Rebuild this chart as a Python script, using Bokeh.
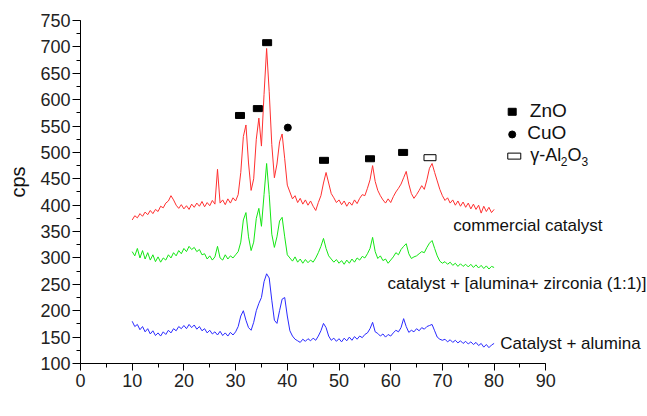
import numpy as np
from bokeh.plotting import figure
from bokeh.models import Range1d, SingleIntervalTicker, Label
from bokeh.embed import file_html
from bokeh.resources import INLINE

# 2-theta sampling positions (degrees)
two_theta = np.arange(10.0, 80.25, 0.5)

commercial = [
    372, 380, 376, 384, 379, 387, 382, 390, 384, 392,
    388, 398, 395, 404, 408, 418, 410, 400, 394, 401,
    393, 399, 392, 402, 396, 404, 398, 407, 397, 405,
    399, 409, 402, 468, 404, 410, 401, 412, 404, 414,
    408, 420, 462, 530, 552, 480, 428, 450, 525, 565,
    512, 610, 697, 615, 515, 452, 478, 520, 535, 488,
    438, 425, 412, 418, 405, 413, 402, 410, 400, 408,
    398, 390, 405, 418, 442, 462, 442, 422, 414, 405,
    410, 401, 408, 398, 406, 400, 410, 403, 413, 420,
    418, 432, 448, 475, 445, 428, 418, 410, 404, 412,
    405, 416, 425, 432, 440, 452, 464, 440, 422, 413,
    420, 428, 437, 430, 448, 470, 479, 462, 446, 430,
    418, 409, 414, 404, 410, 400, 408, 398, 406, 396,
    404, 393, 402, 392, 400, 385, 398, 388, 396, 386,
    392,
]

alumina_zirconia = [
    312, 304, 318, 300, 314, 298, 310, 296, 306, 293,
    302, 292, 300, 296, 306, 300, 310, 304, 314, 308,
    318, 312, 322, 316, 320, 312, 316, 306, 308, 298,
    304, 296, 302, 322, 300, 296, 306, 298, 304, 300,
    306, 312, 330, 372, 386, 340, 314, 330, 375, 394,
    360, 420, 479, 420, 345, 320, 340, 370, 377, 340,
    306, 300, 294, 302, 292, 298, 290, 297, 291, 296,
    292, 300, 310, 322, 337, 318, 304, 298, 292, 297,
    290, 295, 288, 296, 290, 298, 292, 300, 296, 303,
    300, 308, 318, 339, 312, 299, 304, 295, 298, 290,
    296, 302, 310, 306, 316, 322, 327, 308, 299, 302,
    304, 308, 312, 310, 320, 328, 333, 318, 304, 294,
    290, 293, 288, 292, 286, 290, 284, 289, 284, 288,
    283, 288, 282, 287, 281, 286, 280, 285, 279, 284,
    282,
]

alumina = [
    180, 170, 174, 164, 170, 160, 166, 156, 162, 153,
    158, 152, 160, 155, 163, 158, 166, 162, 170, 166,
    172, 166, 174, 168, 173, 165, 170, 162, 166, 158,
    163, 156, 160, 154, 161, 153, 158, 152, 159, 154,
    160, 170, 190, 200, 182, 168, 163, 178, 200, 214,
    225, 255, 270, 262, 220, 182, 176, 200, 222, 225,
    190, 162, 152, 146, 143, 140, 146, 142, 147, 143,
    148, 144, 152, 162, 176, 168, 152, 144, 148, 142,
    147, 141, 148, 143, 150, 144, 151, 146, 152, 149,
    155, 158, 166, 178, 160, 157, 152, 156, 150, 155,
    152, 158, 163, 160, 168, 185, 170, 159, 163, 160,
    166, 162, 168, 165, 170, 172, 174, 162, 150, 146,
    144, 146, 141, 145, 140, 144, 139, 143, 138, 142,
    137, 141, 136, 140, 134, 138, 131, 136, 130, 135,
    138,
]

# phase markers
zno_x = [30.85, 34.3, 36.1, 47.1, 56.0, 62.4]
zno_y = [570, 583, 708, 485, 488, 500]
cuo_x = [40.1]
cuo_y = [547]
al2o3_x = [67.6]
al2o3_y = [490]

series_names = ["commercial catalyst",
                "catalyst + [alumina+ zirconia (1:1)]",
                "Catalyst + alumina"]

FONT = "Liberation Sans"

p = figure(width=647, height=416, output_backend="svg", toolbar_location=None,
           x_range=Range1d(0, 109.67), y_range=Range1d(100, 787.9),
           min_border_left=80, min_border_right=0, min_border_top=0,
           min_border_bottom=53)
p.outline_line_color = None
p.grid.visible = False
p.background_fill_color = "white"
p.border_fill_color = "white"

p.line(two_theta, commercial, line_color="#ff3030", line_width=1)
p.line(two_theta, alumina_zirconia, line_color="#14e614", line_width=1)
p.line(two_theta, alumina, line_color="#2a2aff", line_width=1)

p.rect(zno_x, zno_y, width=9, height=6, width_units="screen", height_units="screen",
       fill_color="black", line_color="black")
p.scatter(cuo_x, cuo_y, marker="circle", size=7, fill_color="black", line_color="black")
p.rect(al2o3_x, al2o3_y, width=12, height=6, width_units="screen", height_units="screen",
       fill_color="white", line_color="black", line_width=1)

# legend (drawn in data coordinates)
p.rect([83.5], [577], width=8, height=7, width_units="screen", height_units="screen",
       fill_color="black", line_color="black")
p.scatter([83.5], [534], marker="circle", size=7, fill_color="black", line_color="black")
p.rect([83.9], [493], width=13, height=6, width_units="screen", height_units="screen",
       fill_color="white", line_color="black", line_width=1)

def lab(x, y, t, size, align="left"):
    p.add_layout(Label(x=x, y=y, text=t, text_font=FONT, text_font_size=size,
                       text_align=align, text_baseline="middle", text_color="#111111"))

lab(86.9, 580, "ZnO", "19px")
lab(86.4, 537, "CuO", "19px")
lab(87.0, 496, "γ-Al", "18px")
lab(92.9, 482, "2", "12px")
lab(94.2, 496, "O", "18px")
lab(96.9, 482, "3", "12px")

lab(72.1, 361.5, series_names[0], "17px")
lab(59.4, 251.6, series_names[1], "17px")
lab(81.2, 137.9, series_names[2], "17px")

lab(44.5, 28, "2θ", "20px", align="center")

for ax in (p.xaxis[0], p.yaxis[0]):
    ax.axis_line_color = "black"
    ax.axis_line_width = 1
    ax.major_tick_line_color = "black"
    ax.minor_tick_line_color = "black"
    ax.major_tick_in = 0
    ax.minor_tick_in = 0
    ax.major_label_text_font = FONT
    ax.major_label_text_font_size = "18px"
    ax.major_label_text_color = "#222222"

p.xaxis.ticker = SingleIntervalTicker(interval=10, num_minor_ticks=2)
p.yaxis.ticker = SingleIntervalTicker(interval=50, num_minor_ticks=2)
p.xaxis.bounds = (0, 90)
p.yaxis.bounds = (100, 750)
p.xaxis.major_tick_out = 7
p.xaxis.minor_tick_out = 4
p.yaxis.major_tick_out = 8
p.yaxis.minor_tick_out = 4
p.xaxis.major_label_standoff = 3
p.yaxis.major_label_standoff = 2

p.yaxis.axis_label = "cps"
p.yaxis.axis_label_text_font = FONT
p.yaxis.axis_label_text_font_size = "20px"
p.yaxis.axis_label_text_font_style = "normal"
p.yaxis.axis_label_text_color = "#111111"
p.yaxis.axis_label_standoff = 8

open("out.html", "w").write(file_html(p, INLINE))
